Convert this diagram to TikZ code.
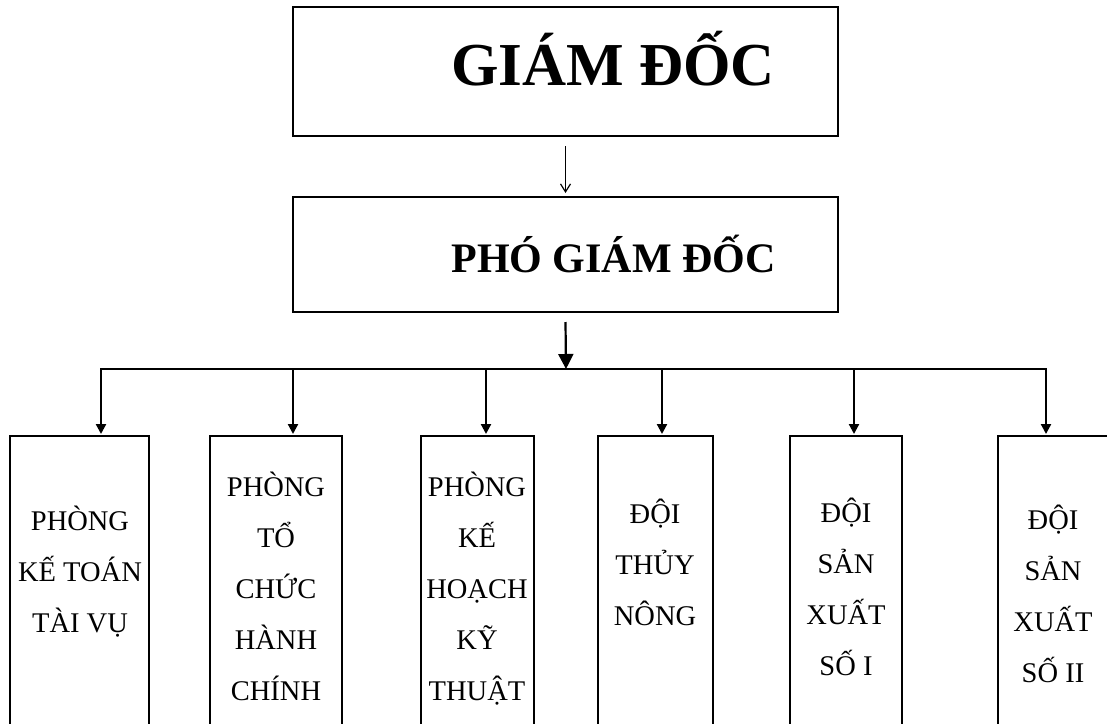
\documentclass[tikz,border=0pt]{standalone}
\usepackage{fontspec}
\setmainfont{Liberation Serif}
\usetikzlibrary{arrows.meta}

\begin{document}
\begin{tikzpicture}[x=1pt,y=-1pt,
  head/.style={draw,line width=2pt,minimum width=545pt,inner sep=0pt},
  unit/.style={draw,line width=2pt,minimum height=300pt,anchor=north,inner sep=0pt},
  unittext/.style={font=\fontsize{28.5}{51}\selectfont,align=center,anchor=base},
  drop/.style={-{Triangle[length=10pt,width=10pt]},line width=2.2pt,shorten >=1pt}]
\useasboundingbox (0,0) rectangle (1107,723);
\clip (0,0) rectangle (1107,723);
\node[head,minimum height=129pt] (gd) at (565.5,71.5) {};
\node[anchor=base,font=\fontsize{61}{61}\selectfont\bfseries] (gdtext) at (613,85) {GIÁM ĐỐC};
\node[head,minimum height=115pt] (pgd) at (565.5,254.5) {};
\node[anchor=base,font=\fontsize{42}{42}\selectfont\bfseries] (pgdtext) at (613.5,272) {PHÓ GIÁM ĐỐC};
\coordinate (hub) at (566,369);
\draw[line width=1.2pt,-{Straight Barb[length=8pt,width=10pt]}] ([yshift=-9pt]gd.south) -- ([yshift=3pt]pgd.north);
\draw[line width=2.2pt,-{Triangle[length=15pt,width=15pt]}] ([yshift=-9pt]pgd.south) -- (hub);
\node[unit,minimum width=139pt] (b1) at (79.5,435) {};
\node[unit,minimum width=132pt] (b2) at (276,435) {};
\node[unit,minimum width=113pt] (b3) at (477.5,435) {};
\node[unit,minimum width=115pt] (b4) at (655.5,435) {};
\node[unit,minimum width=112pt] (b5) at (846,435) {};
\node[unit,minimum width=110pt] (b6) at (1053,435) {};
\node[unittext] (b1text) at (80,632) {PHÒNG\\KẾ TOÁN\\TÀI VỤ};
\node[unittext] (b2text) at (276,700) {PHÒNG\\TỔ\\CHỨC\\HÀNH\\CHÍNH};
\node[unittext] (b3text) at (477,700) {PHÒNG\\KẾ\\HOẠCH\\KỸ\\THUẬT};
\node[unittext] (b4text) at (655,625) {ĐỘI\\THỦY\\NÔNG};
\node[unittext] (b5text) at (846,675) {ĐỘI\\SẢN\\XUẤT\\SỐ I};
\node[unittext] (b6text) at (1053,682) {ĐỘI\\SẢN\\XUẤT\\SỐ II};
\draw[line width=2.2pt,line cap=rect] ([xshift=21.5pt]b1.north |- hub) -- ([xshift=-7pt]b6.north |- hub);
\foreach \b/\s in {b1/21.5,b2/17,b3/8.5,b4/6.5,b5/8,b6/-7}
  \draw[drop] ([xshift=\s pt]\b.north |- hub) -- ([xshift=\s pt]\b.north);
\end{tikzpicture}
\end{document}
